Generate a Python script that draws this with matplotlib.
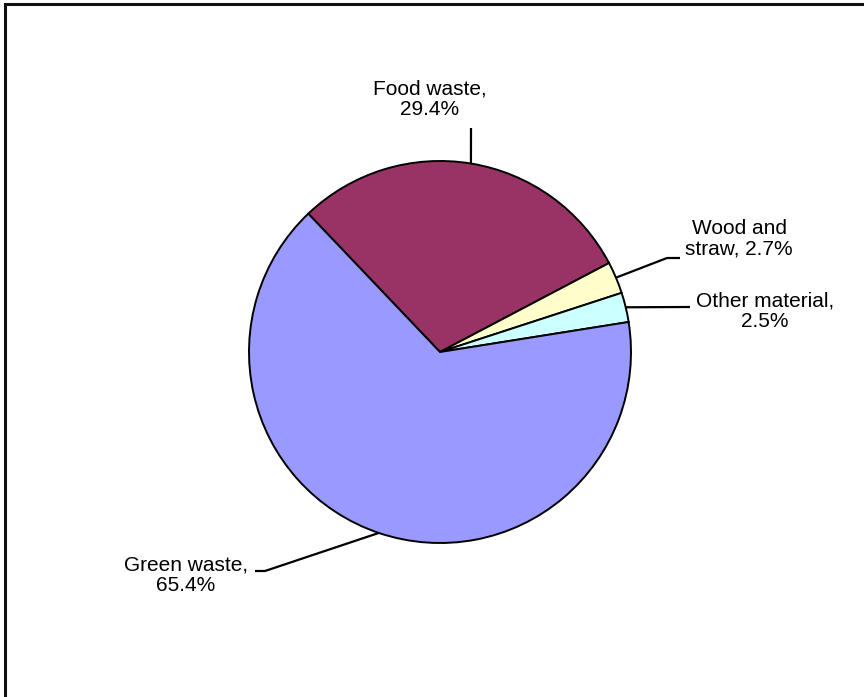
import numpy as np
import matplotlib.pyplot as plt
from matplotlib.patches import Rectangle

# ---------------------------------------------------------------
# data
# ---------------------------------------------------------------
categories = ['Food waste', 'Wood and\nstraw', 'Other material', 'Green waste']
shares = [29.4, 2.7, 2.5, 65.4]
colors = ['#993366', '#FFFFCC', '#CCFFFF', '#9999FF']

# label text (Excel style "name, value%")
label_texts = ['Food waste,\n29.4%', 'Wood and\nstraw, 2.7%',
               'Other material,\n2.5%', 'Green waste,\n65.4%']

# ---------------------------------------------------------------
# layout (pixel-like coordinates, y upward)
# ---------------------------------------------------------------
W, H = 864, 697
center = (440, 345)
radius = 191
start_angle = 133.6

# label centre and leader-line elbow points for each slice
label_pos = [(430, 598), (739, 458), (765, 386), (186, 122)]
leader_pts = [
    [(471, 569)],
    [(667, 439), (680, 439)],
    [(690, 390)],
    [(265, 126), (255, 126)],
]

fig = plt.figure(figsize=(W / 100, H / 100), dpi=100)
ax = fig.add_axes([0, 0, 1, 1])

wedges, _ = ax.pie(shares, colors=colors, center=center, radius=radius,
                   startangle=start_angle, counterclock=False,
                   wedgeprops=dict(edgecolor='black', linewidth=1.4))

# pie() resets the limits, so set them afterwards
ax.set_xlim(0, W)
ax.set_ylim(0, H)
ax.set_aspect('equal')
ax.axis('off')

# leader lines + labels
for w, txt, pos, pts in zip(wedges, label_texts, label_pos, leader_pts):
    mid = np.deg2rad((w.theta1 + w.theta2) / 2)
    x0 = center[0] + radius * np.cos(mid)
    y0 = center[1] + radius * np.sin(mid)
    xs = [x0] + [p[0] for p in pts]
    ys = [y0] + [p[1] for p in pts]
    ax.plot(xs, ys, color='black', lw=1.6, solid_capstyle='butt')
    ax.text(pos[0], pos[1], txt, ha='center', va='center', fontsize=15,
            family='Liberation Sans', linespacing=1.1)

# chart border
ax.add_patch(Rectangle((5, -10), W, H - 4 + 10, fill=False,
                       edgecolor='#111111', lw=2.2, clip_on=False))

fig.savefig('out.png', dpi=100)
